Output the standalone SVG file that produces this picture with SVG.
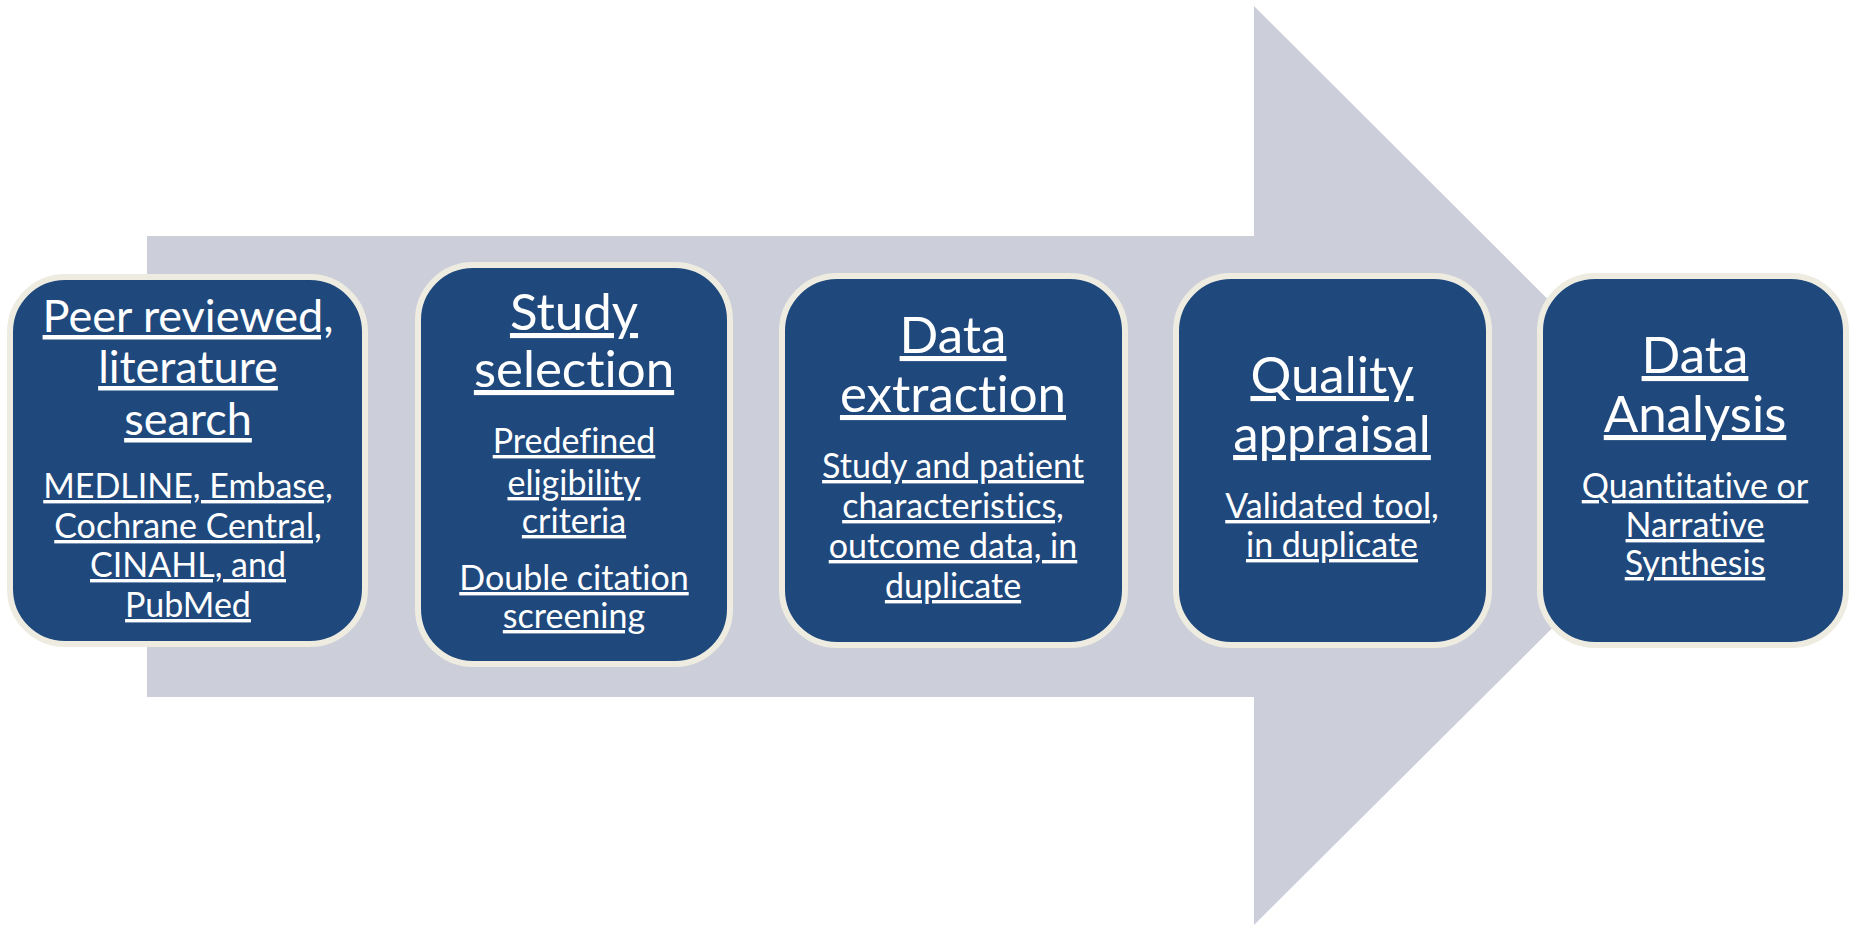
<svg xmlns="http://www.w3.org/2000/svg" width="1851" height="926" viewBox="0 0 1851 926">
<style>
.box{fill:#1F497D;stroke:#EEECE1;stroke-width:6}
text{font-family:Lato,"Open Sans",sans-serif;fill:#FFFFFF;text-anchor:middle;text-decoration:underline;text-decoration-thickness:2px;text-underline-offset:5px;font-variant-ligatures:none}
.t1{font-size:45px}
.t{font-size:51px}
.s{font-size:34px}
</style>
<rect width="1851" height="926" fill="#FFFFFF"/>
<g id="arrow">
<polygon points="147,236 1254,236 1254,6 1715,466 1254,925 1254,697 147,697" fill="#CCCFD9"/>
</g>
<g id="connectors"></g>
<g id="n1">
<rect class="box" x="10" y="277" width="355" height="367" rx="55"/>
<text class="t1" x="188" y="332">Peer reviewed,</text>
<text class="t1" x="188" y="383">literature</text>
<text class="t1" x="188" y="435">search</text>
<text class="s" x="188" y="498">MEDLINE, Embase,</text>
<text class="s" x="188" y="538">Cochrane Central,</text>
<text class="s" x="188" y="577">CINAHL, and</text>
<text class="s" x="188" y="617">PubMed</text>
</g>
<g id="n2">
<rect class="box" x="418" y="265" width="312" height="399" rx="55"/>
<text class="t" x="574" y="330">Study</text>
<text class="t" x="574" y="387">selection</text>
<text class="s" x="574" y="453">Predefined</text>
<text class="s" x="574" y="495">eligibility</text>
<text class="s" x="574" y="533">criteria</text>
<text class="s" x="574" y="590">Double citation</text>
<text class="s" x="574" y="628">screening</text>
</g>
<g id="n3">
<rect class="box" x="782" y="276" width="343" height="369" rx="55"/>
<text class="t" x="953" y="353">Data</text>
<text class="t" x="953" y="412">extraction</text>
<text class="s" x="953" y="478">Study and patient</text>
<text class="s" x="953" y="518">characteristics,</text>
<text class="s" x="953" y="558">outcome data, in</text>
<text class="s" x="953" y="598">duplicate</text>
</g>
<g id="n4">
<rect class="box" x="1176" y="276" width="313" height="369" rx="55"/>
<text class="t" x="1332" y="393">Quality</text>
<text class="t" x="1332" y="452">appraisal</text>
<text class="s" x="1332" y="518">Validated tool,</text>
<text class="s" x="1332" y="557">in duplicate</text>
</g>
<g id="n5">
<rect class="box" x="1540" y="276" width="306" height="369" rx="55"/>
<text class="t" x="1695" y="373">Data</text>
<text class="t" x="1695" y="432">Analysis</text>
<text class="s" x="1695" y="498">Quantitative or</text>
<text class="s" x="1695" y="537">Narrative</text>
<text class="s" x="1695" y="575">Synthesis</text>
</g>
</svg>
